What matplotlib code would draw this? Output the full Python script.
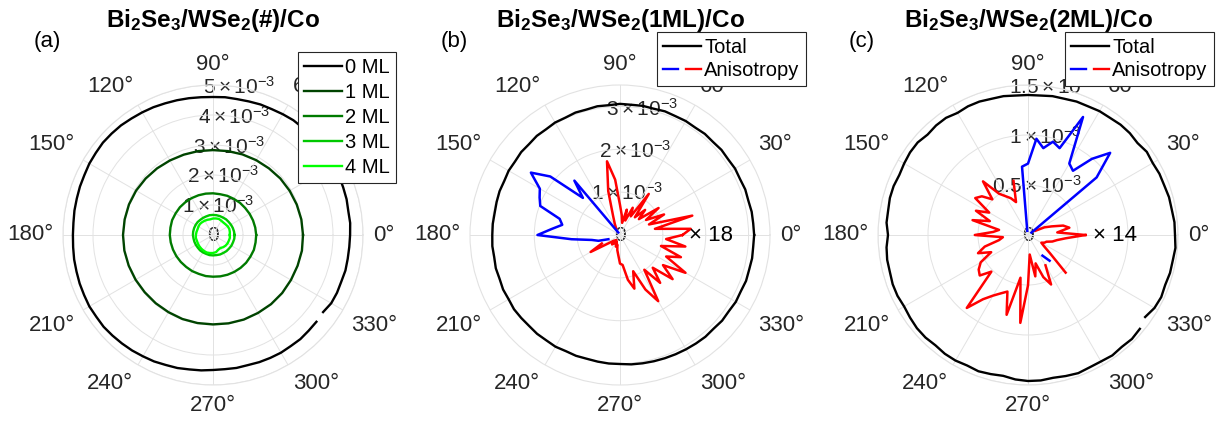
#! /usr/bin/env python3

import matplotlib
matplotlib.use("Agg")
import matplotlib.pyplot as plt
import numpy as np
from matplotlib.legend_handler import HandlerTuple
from matplotlib.lines import Line2D

plt.rcParams["font.family"] = ["Liberation Sans", "DejaVu Sans"]
plt.rcParams["mathtext.fontset"] = "custom"
plt.rcParams["mathtext.rm"] = "Liberation Sans"
plt.rcParams["mathtext.it"] = "Liberation Sans:italic"
plt.rcParams["mathtext.bf"] = "Liberation Sans:bold"

W, H = 1228, 426
TXT = "#262626"
GRID = "#e2e2e2"

## measurement angles (deg)
angles = np.arange(0, 360, 5)
angles10 = np.arange(0, 360, 10)

## (a) total signal for each WSe2 thickness, units 1e-3
total_0ml = [4.57, 4.59, 4.58, 4.61, 4.62, 4.64, 4.66, 4.65, 4.67, 4.68, 4.66, 4.67,
             4.65, 4.63, 4.63, 4.61, 4.60, 4.61, 4.60, 4.61, 4.63, 4.65, 4.67, 4.70,
             4.72, 4.74, 4.77, 4.78, 4.79, 4.77, 4.76, 4.73, 4.72, 4.70, 4.69, 4.67,
             4.67, 4.68, 4.70, 4.71, 4.73, 4.74, 4.76, 4.75, 4.76, 4.74, 4.72, 4.70,
             4.67, 4.65, 4.61, 4.59, 4.55, 4.53, 4.50, 4.49, 4.50, 4.49, 4.51, 4.52,
             4.53, 4.52, 4.53, 4.51, 4.50, 4.48, 4.55, 4.56, 4.55, 4.57, 4.56, 4.56]
total_1ml = [3.00, 2.99, 2.97, 2.95, 2.93, 2.90, 2.88, 2.86, 2.84, 2.83, 2.84, 2.85,
             2.87, 2.90, 2.93, 2.96, 2.98, 2.99, 3.00, 3.00, 2.99, 2.98, 2.97, 2.97,
             2.97, 2.98, 2.98, 2.98, 2.99, 3.00, 3.00, 3.01, 3.01, 3.00, 3.00, 3.01]
total_2ml = [1.44, 1.43, 1.42, 1.41, 1.40, 1.40, 1.39, 1.39, 1.38, 1.39, 1.40, 1.41,
             1.42, 1.43, 1.44, 1.44, 1.45, 1.44, 1.44, 1.43, 1.42, 1.41, 1.40, 1.39,
             1.39, 1.38, 1.39, 1.39, 1.40, 1.41, 1.42, 1.43, 1.44, 1.44, 1.45, 1.44]
total_3ml = [0.72, 0.71, 0.70, 0.69, 0.68, 0.68, 0.67, 0.67, 0.67, 0.67, 0.67, 0.66,
             0.66, 0.66, 0.67, 0.67, 0.67, 0.67, 0.67, 0.66, 0.66, 0.66, 0.66, 0.67,
             0.67, 0.67, 0.68, 0.68, 0.68, 0.69, 0.69, 0.70, 0.70, 0.71, 0.71, 0.72]
total_4ml = [0.56, 0.57, 0.58, 0.57, 0.55, 0.54, 0.55, 0.57, 0.56, 0.55, 0.53, 0.54,
             0.55, 0.56, 0.57, 0.56, 0.55, 0.56, 0.57, 0.58, 0.57, 0.58, 0.59, 0.60,
             0.61, 0.62, 0.61, 0.60, 0.58, 0.52, 0.50, 0.53, 0.55, 0.56, 0.56, 0.57]
ml_labels = ["0 ML", "1 ML", "2 ML", "3 ML", "4 ML"]
ml_colors = ["#000000", "#004400", "#007a00", "#00c800", "#00ff00"]

## (b) 1 ML: total (1e-3) and anisotropy (1e-5)
total_b = [3.13, 3.12, 3.12, 3.10, 3.11, 3.09, 3.10, 3.08, 3.09, 3.07, 3.08, 3.06,
           3.07, 3.06, 3.07, 3.05, 3.06, 3.05, 3.06, 3.04, 3.05, 3.03, 3.04, 3.02,
           3.03, 3.01, 3.02, 3.00, 3.01, 2.99, 3.00, 2.98, 2.99, 2.98, 2.97, 2.98,
           2.98, 2.99, 2.98, 3.00, 2.99, 3.01, 3.00, 3.02, 3.01, 3.00, 3.01, 3.00,
           3.01, 2.99, 3.00, 2.99, 3.00, 3.01, 3.01, 3.03, 3.04, 3.05, 3.06, 3.07,
           3.08, 3.09, 3.10, 3.09, 3.11, 3.10, 3.12, 3.11, 3.13, 3.12, 3.13, 3.12]
aniso_b = [8.1, 9.2, 4.6, 9.7, 4.0, 6.3, 3.9, 6.1, 3.2, 4.6, 3.0, 6.5,
           2.8, 3.9, 2.0, 3.4, 1.6, 2.6, 3.9, 7.2, 9.7, 5.9, 2.6, 1.6,
           1.0, -0.4, -9.2, -6.8, -11.8, -14.1, -12.0, -11.5, -11.0, -8.1, -7.6, -8.9,
           -10.7, -6.3, -3.7, -2.9, -1.6, 2.6, 4.4, 2.0, 1.3, 1.0, 1.6, 0.8,
           1.3, 1.0, 1.6, 1.3, 2.0, 2.6, 3.7, 3.9, 5.9, 7.2, 5.0, 7.8,
           9.9, 5.5, 8.1, 6.0, 8.9, 6.8, 9.8, 6.6, 8.4, 5.5, 8.6, 6.0]
scale_b = 18

## (c) 2 ML: total (1e-3) and anisotropy (1e-5)
total_c = [1.47, 1.47, 1.46, 1.46, 1.45, 1.45, 1.44, 1.45, 1.43, 1.44, 1.44, 1.43,
           1.43, 1.42, 1.42, 1.41, 1.41, 1.40, 1.40, 1.40, 1.41, 1.41, 1.42, 1.42,
           1.41, 1.43, 1.43, 1.42, 1.44, 1.44, 1.43, 1.42, 1.43, 1.43, 1.42, 1.42,
           1.40, 1.42, 1.43, 1.43, 1.44, 1.44, 1.43, 1.44, 1.45, 1.45, 1.44, 1.45,
           1.45, 1.44, 1.45, 1.44, 1.43, 1.45, 1.46, 1.46, 1.45, 1.46, 1.47, 1.46,
           1.46, 1.47, 1.46, 1.47, 1.46, 1.43, 1.46, 1.47, 1.46, 1.47, 1.47, 1.48]
aniso_c = [4.1, 2.1, 3.0, 2.6, 1.8, 1.3, 0.6, -0.3, -6.4, -8.3, -7.1, -5.6,
           -5.9, -9.3, -6.6, -6.9, -6.3, -6.9, -5.1, -4.9, -0.3, 4.0, 2.5, 2.9,
           3.2, 3.6, 5.0, 3.6, 4.3, 4.6, 3.2, 4.1, 2.9, 4.1, 2.1, 2.5,
           3.8, 1.8, 2.1, 3.2, 3.8, 2.9, 3.9, 4.3, 4.5, 3.7, 6.8, 5.6,
           5.0, 4.6, 4.3, 5.9, 3.1, 6.3, 3.6, 1.4, 3.0, 2.1, 3.2, 3.9,
           2.5, -1.8, -2.4, 3.8, 2.1, 1.4, 1.1, 1.3, 1.4, 1.8, 2.1, 2.7]
scale_c = 14


def closed(deg, vals):
    th = np.deg2rad(np.append(deg, deg[0] + 360))
    return th, np.append(vals, vals[0])


def open_at(deg, vals, start):
    # sweep starts at `start` and stops just short of it
    deg = np.asarray(deg)
    i = int(np.where(deg == start)[0][0])
    d = np.roll(deg, -i)
    d = np.where(d < start, d + 360, d)
    return np.deg2rad(d), np.roll(np.asarray(vals), -i)


def setup_polar(ax, rmax, ticks, labels):
    ax.set_ylim(0, rmax)
    ax.set_yticks(ticks)
    ax.set_yticklabels([])
    ax.set_xticks(np.deg2rad(np.arange(0, 360, 30)))
    ax.set_xticklabels([])
    ax.grid(color=GRID, lw=0.7)
    ax.spines["polar"].set_color(GRID)
    ax.spines["polar"].set_linewidth(0.8)
    ax.tick_params(length=0)

    # theta labels sit just outside the rim
    for a in range(0, 360, 30):
        c, s = np.cos(np.deg2rad(a)), np.sin(np.deg2rad(a))
        ha = "left" if c > 0.1 else ("right" if c < -0.1 else "center")
        va = "bottom" if s > 0.1 else ("top" if s < -0.1 else "center")
        ax.text(np.deg2rad(a), rmax * 1.065, f"{a}°", ha=ha, va=va,
                fontsize=16, color=TXT, clip_on=False)

    # r labels along 80 deg
    for r, lab in zip(ticks, labels):
        ax.text(np.deg2rad(80), r, lab, ha="center", va="center",
                fontsize=15, color=TXT, zorder=1)


def r_label(k):
    if k == 0:
        return "0"
    return r"$\mathregular{%s\times10^{-3}}$" % k


def add_title(ax, text, tag):
    ax.text(0.5, 1.193, text, transform=ax.transAxes, ha="center", va="baseline",
            fontsize=17.5, fontweight="bold")
    fig = ax.figure
    x0 = ax.get_position().x0
    fig.text(x0 - 16 / W, 1 - 41 / H, tag, ha="center", va="center", fontsize=16)


def plot_aniso(ax, vals, scale):
    th, a = closed(angles, np.asarray(vals) * 1e-5 * scale)
    ax.plot(th, np.where(a >= 0, a, np.nan), color="#ff0000", lw=1.8, zorder=3)
    ax.plot(th, np.where(a < 0, -a, np.nan), color="#0000ff", lw=1.8, zorder=3)


def legend_style(ax, handles, labels, x, y, spacing=0.2, **kw):
    leg = ax.legend(handles, labels, loc="upper left", bbox_to_anchor=(x / W, 1 - y / H),
                    bbox_transform=ax.figure.transFigure, fontsize=14.5, fancybox=False,
                    edgecolor=TXT, framealpha=1, handlelength=1.9, handletextpad=0.15,
                    labelspacing=spacing, borderpad=0.3, borderaxespad=0, **kw)
    leg.get_frame().set_linewidth(0.8)
    leg.set_zorder(10)


def main():
    fig = plt.figure(figsize=(W / 100, H / 100), dpi=100)
    size = 300
    axes = [fig.add_axes([(cx - size / 2) / W, 41 / H, size / W, size / H], projection="polar")
            for cx in (213, 620, 1028)]

    ## (a)
    ax = axes[0]
    setup_polar(ax, 5e-3, np.arange(6) * 1e-3, [r_label(k) for k in range(6)])
    th, r = open_at(angles, total_0ml, 325)
    handles = [ax.plot(th, np.asarray(r) * 1e-3, color=ml_colors[0], lw=1.7, zorder=3)[0]]
    for vals, col in zip([total_1ml, total_2ml, total_3ml, total_4ml], ml_colors[1:]):
        th, r = closed(angles10, vals)
        handles.append(ax.plot(th, r * 1e-3, color=col, lw=1.7, zorder=3)[0])
    add_title(ax, r"Bi$_\mathbf{2}$Se$_\mathbf{3}$/WSe$_\mathbf{2}$(#)/Co", "(a)")
    legend_style(ax, handles, ml_labels, 298, 52, spacing=0.3)

    ## (b) and (c)
    panels = [
        (axes[1], total_b, aniso_b, scale_b, 3.5e-3, [0, 1e-3, 2e-3, 3e-3],
         [r_label(0), r_label(1), r_label(2), r_label(3)], None, 1.6e-3,
         r"Bi$_\mathbf{2}$Se$_\mathbf{3}$/WSe$_\mathbf{2}$(1ML)/Co", "(b)", 657),
        (axes[2], total_c, aniso_c, scale_c, 1.5e-3, [0, 0.5e-3, 1e-3, 1.5e-3],
         [r_label(0), r_label(0.5), r_label(1), r_label(1.5)], 325, 0.65e-3,
         r"Bi$_\mathbf{2}$Se$_\mathbf{3}$/WSe$_\mathbf{2}$(2ML)/Co", "(c)", 1065),
    ]
    for ax, tot, aniso, scale, rmax, ticks, labels, gap, tx, title, tag, lx in panels:
        setup_polar(ax, rmax, ticks, labels)
        if gap is None:
            th, r = closed(angles, tot)
        else:
            th, r = open_at(angles, tot, gap)
        h_tot = ax.plot(th, np.asarray(r) * 1e-3, color="black", lw=1.7, zorder=3)[0]
        plot_aniso(ax, aniso, scale)
        ax.text(0, tx, f"\u00d7 {scale}", ha="left", va="center", fontsize=16, color="black")
        add_title(ax, title, tag)
        h_blue = Line2D([], [], color="#0000ff", lw=1.7)
        h_red = Line2D([], [], color="#ff0000", lw=1.7)
        legend_style(ax, [h_tot, (h_blue, h_red)], ["Total", "Anisotropy"], lx, 32,
                     handler_map={tuple: HandlerTuple(ndivide=None, pad=0.4)})

    fig.savefig("out.png", dpi=100)


if __name__ == '__main__':
    main()
